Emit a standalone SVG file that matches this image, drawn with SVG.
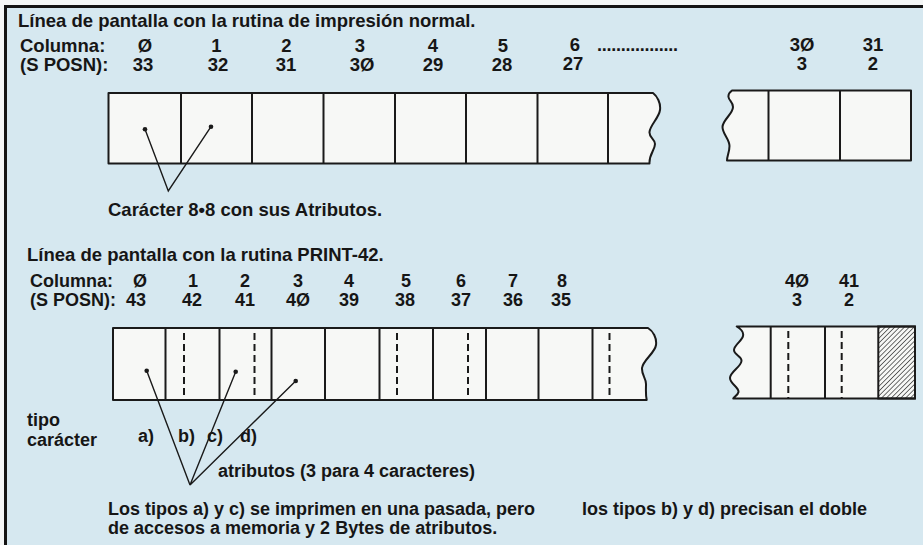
<svg xmlns="http://www.w3.org/2000/svg" width="923" height="545" viewBox="0 0 923 545">
<defs>
<style>
text{font-family:"Liberation Sans",Arial,Helvetica,sans-serif;font-weight:bold;fill:#161616;font-size:18px}
.big{font-size:18.5px}
.c{text-anchor:middle}
.box{fill:#f7f8f6;stroke:#1a1a1a;stroke-width:2;stroke-linejoin:round}
.div{stroke:#1a1a1a;stroke-width:2;fill:none}
.dash{stroke:#1a1a1a;stroke-width:2;stroke-dasharray:7 4;fill:none}
.conn{stroke:#1a1a1a;stroke-width:1.4;fill:none}
.dot{fill:#1a1a1a}
</style>
<pattern id="hatch" width="3.4" height="3.4" patternUnits="userSpaceOnUse" patternTransform="rotate(45)">
<line x1="0" y1="0" x2="0" y2="3.4" stroke="#222" stroke-width="1.3"/>
</pattern>
</defs>

<rect width="923" height="545" fill="#f4f6f6"/>
<rect x="5" y="6" width="918" height="539" fill="#d6e8f0"/>
<path d="M5.5,545 V6.5 H923" stroke="#141414" stroke-width="3" fill="none"/>

<g id="title-normal">
<text class="big" x="18" y="27">Línea de pantalla con la rutina de impresión normal.</text>
</g>

<g id="labels-normal">
<text class="big" x="20" y="52">Columna:</text>
<text class="big" x="20" y="71">(S POSN):</text>
<text class="big c" x="145" y="52">Ø</text>
<text class="big c" x="216.5" y="52">1</text>
<text class="big c" x="286.5" y="52">2</text>
<text class="big c" x="360" y="52">3</text>
<text class="big c" x="433" y="52">4</text>
<text class="big c" x="503" y="52">5</text>
<text class="big c" x="575" y="51">6</text>
<text x="597" y="51" font-size="13" textLength="81" lengthAdjust="spacing">.................</text>
<text class="big c" x="802" y="51">3Ø</text>
<text class="big c" x="873" y="51">31</text>
<text class="big c" x="143" y="71">33</text>
<text class="big c" x="218" y="71">32</text>
<text class="big c" x="286" y="71">31</text>
<text class="big c" x="362" y="71">3Ø</text>
<text class="big c" x="433" y="71">29</text>
<text class="big c" x="502" y="71">28</text>
<text class="big c" x="573" y="70">27</text>
<text class="big c" x="802" y="70">3</text>
<text class="big c" x="873" y="70">2</text>
</g>

<g id="row-normal-left">
<path class="box" d="M108.5,93 H653 C657,96 661,103 660,110 C659,118 650,125 649.5,132 C649,138 655,139 655,144 C655,150 649,154 649.5,163.5 H108.5 Z"/>
<path class="div" d="M181,93 V163.5 M252,93 V163.5 M323.5,93 V163.5 M395,93 V163.5 M466,93 V163.5 M537.5,93 V163.5 M608,93 V163.5"/>
</g>

<g id="row-normal-right">
<path class="box" d="M911,90.5 H732 C730,92 728,94 728.5,97 C729,101 733,102 733,107 C733,114 722.5,120 722.5,127 C722.5,134 729.5,139 729.5,146 C729.5,152 727,156 727,160.5 H911 Z"/>
<path class="div" d="M768.5,90.5 V160.5 M840,90.5 V160.5"/>
</g>

<g id="label-caracter">
<text class="big" x="108" y="216">Carácter 8•8 con sus Atributos.</text>
</g>

<g id="title-print42">
<text class="big" x="27" y="261">Línea de pantalla con la rutina PRINT-42.</text>
</g>

<g id="labels-print42">
<text x="30" y="287">Columna:</text>
<text x="30" y="306">(S POSN):</text>
<text class="c" x="140" y="287">Ø</text>
<text class="c" x="193" y="287">1</text>
<text class="c" x="245" y="287">2</text>
<text class="c" x="298" y="287">3</text>
<text class="c" x="349" y="287">4</text>
<text class="c" x="406" y="287">5</text>
<text class="c" x="461" y="287">6</text>
<text class="c" x="513" y="287">7</text>
<text class="c" x="562" y="287">8</text>
<text class="c" x="797" y="287">4Ø</text>
<text class="c" x="849" y="287">41</text>
<text class="c" x="136" y="306">43</text>
<text class="c" x="192" y="306">42</text>
<text class="c" x="245" y="306">41</text>
<text class="c" x="298" y="306">4Ø</text>
<text class="c" x="349" y="306">39</text>
<text class="c" x="405" y="306">38</text>
<text class="c" x="461" y="306">37</text>
<text class="c" x="513" y="306">36</text>
<text class="c" x="561" y="306">35</text>
<text class="c" x="797" y="306">3</text>
<text class="c" x="849" y="306">2</text>
</g>

<g id="row-print42-left">
<path class="box" d="M113,328 H648 C653,331 657,338 656,345 C655,353 643,360 642,368 C641.5,375 646,378 646,384 C646,390 645.5,395 646.7,400 H113 Z"/>
<path class="div" d="M165.5,328 V400 M219.5,328 V400 M271.5,328 V400 M325,328 V400 M379.5,328 V400 M433,328 V400 M486,328 V400 M538.5,328 V400 M592.5,328 V400"/>
<path class="dash" d="M184,333 V400 M254.5,333 V400 M397,333 V400 M468,333 V400 M609.5,333 V400"/>
</g>

<g id="row-print42-right">
<path class="box" d="M915,326.5 H736.7 C741,329 744,332 743,336 C742,341 734,345 734,350 C734,355 742,356 741.5,361 C741,367 730,372 730,378 C730,384 739,387 738.5,392 C738,395 734,397 733.3,398.5 H915 Z"/>
<rect x="878.3" y="326.5" width="36.7" height="72" fill="url(#hatch)" stroke="#1a1a1a" stroke-width="2"/>
<path class="div" d="M770.7,326.5 V398.5 M825,326.5 V398.5"/>
<path class="dash" d="M788.3,331 V398.5 M841.7,331 V398.5"/>
</g>

<g id="labels-tipo">
<text x="27" y="426">tipo</text>
<text x="27" y="446">carácter</text>
<text x="138" y="442">a)</text>
<text x="178" y="442">b)</text>
<text x="207" y="442">c)</text>
<text x="240" y="442">d)</text>
</g>

<g id="label-atributos">
<text x="218" y="477">atributos (3 para 4 caracteres)</text>
</g>

<g id="note">
<text x="108" y="515">Los tipos a) y c) se imprimen en una pasada, pero</text>
<text x="582" y="515">los tipos b) y d) precisan el doble</text>
<text x="108" y="534">de accesos a memoria y 2 Bytes de atributos.</text>
</g>

<g id="connectors">
<polyline class="conn" points="145,129.3 168.3,191 211,126.7"/>
<circle class="dot" cx="145" cy="129.3" r="2.3"/>
<circle class="dot" cx="211" cy="126.7" r="2.3"/>
<path class="conn" d="M146.7,370.7 L190,485 M235.7,371.7 L190,485 M295.7,381 L190,485"/>
<circle class="dot" cx="146.7" cy="370.7" r="2.3"/>
<circle class="dot" cx="235.7" cy="371.7" r="2.3"/>
<circle class="dot" cx="295.7" cy="381" r="2.3"/>
</g>
</svg>
